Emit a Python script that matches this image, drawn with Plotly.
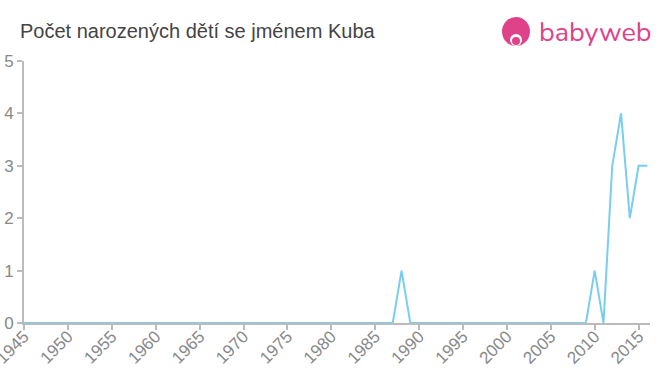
import plotly.graph_objects as go

years = list(range(1945, 2017))
counts_nonzero = {1988: 1, 2010: 1, 2012: 3, 2013: 4, 2014: 2, 2015: 3, 2016: 3}
counts = [counts_nonzero.get(y, 0) for y in years]
x_ticks = list(range(1945, 2020, 5))
y_ticks = [0, 1, 2, 3, 4, 5]

fig = go.Figure()
fig.add_trace(go.Scatter(x=years, y=counts, mode="lines",
                         line=dict(color="#79cdef", width=2), hoverinfo="skip"))

fig.update_layout(
    width=660, height=375,
    margin=dict(l=24, r=10, t=61, b=52, autoexpand=False),
    paper_bgcolor="white", plot_bgcolor="white",
    showlegend=False,
    font=dict(family="Liberation Sans, Arial, sans-serif", color="#888"),
    title=dict(text="Počet narozených dětí se jménem Kuba",
               x=20/660, xanchor="left", y=1-31/375, yanchor="middle",
               font=dict(size=20, color="#444")),
)
fig.update_xaxes(range=[1945, 2016.3], tickvals=x_ticks, ticktext=[str(t) for t in x_ticks],
                 tickangle=-45, showgrid=False, zeroline=False, automargin=False,
                 ticklabeloverflow="allow", ticklabelstandoff=-10,
                 showline=True, linecolor="#bbb", linewidth=2,
                 ticks="outside", tickcolor="#bbb", ticklen=5, tickwidth=2,
                 tickfont=dict(size=17, color="#888", family="Liberation Sans, Arial, sans-serif"))
fig.update_yaxes(range=[0, 5], tickvals=y_ticks, showgrid=False, zeroline=False, automargin=False,
                 showline=True, linecolor="#bbb", linewidth=2,
                 ticks="outside", tickcolor="#bbb", ticklen=5, tickwidth=2,
                 tickfont=dict(size=17, color="#888"))

# logo
fig.add_shape(type="circle", xref="paper", yref="paper",
              x0=(502-24)/626, x1=(530-24)/626, y0=(323-46)/262, y1=(323-17)/262,
              fillcolor="#e0428a", line=dict(width=0), layer="above")
fig.add_shape(type="circle", xref="paper", yref="paper",
              x0=(510-24)/626, x1=(522-24)/626, y0=(323-46)/262, y1=(323-34)/262,
              fillcolor="white", line=dict(width=0), layer="above")
fig.add_shape(type="circle", xref="paper", yref="paper",
              x0=(512-24)/626, x1=(520-24)/626, y0=(323-45)/262, y1=(323-37)/262,
              fillcolor="#e0428a", line=dict(width=0), layer="above")
fig.add_annotation(text="babyweb", xref="paper", yref="paper",
                   x=(537-24)/626, y=(323-32)/262, xanchor="left", yanchor="middle",
                   showarrow=False, font=dict(size=27, color="#e0428a",
                   family="Nunito, Lato, Arial Rounded MT Bold, sans-serif"))

fig.write_html("out.html")
